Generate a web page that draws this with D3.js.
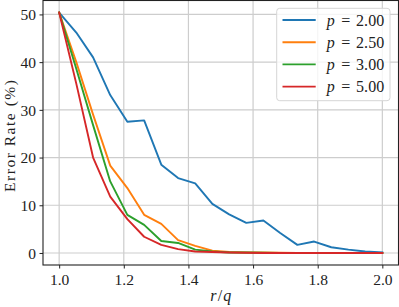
<!DOCTYPE html>
<html><head><meta charset="utf-8">
<script src="https://cdn.jsdelivr.net/npm/d3@7"></script>
<style>
html,body{margin:0;padding:0;background:#fff;}
svg{display:block;}
</style></head>
<body>
<svg id="chart" width="399" height="307"></svg>
<script>
const ratios = [1.000, 1.053, 1.105, 1.158, 1.211, 1.263, 1.316, 1.368, 1.421, 1.474,
                1.526, 1.579, 1.632, 1.684, 1.737, 1.789, 1.842, 1.895, 1.947, 2.000];
const seriesNames = ["2.00", "2.50", "3.00", "5.00"];
const errP200 = [50.4, 46.2, 41.0, 33.1, 27.5, 27.8, 18.5, 15.7, 14.6, 10.3, 8.1, 6.3, 6.8, 4.2, 1.7, 2.4, 1.2, 0.7, 0.3, 0.1];
const errP250 = [50.4, 40.0, 29.0, 18.3, 13.6, 8.0, 6.1, 2.7, 1.5, 0.5, 0.2, 0.1, 0.1, 0.05, 0, 0, 0, 0, 0, 0];
const errP300 = [50.4, 38.6, 26.8, 15.0, 8.0, 5.9, 2.5, 2.1, 0.7, 0.3, 0.1, 0.1, 0.05, 0, 0, 0, 0, 0, 0, 0];
const errP500 = [50.4, 35.5, 20.0, 11.8, 7.1, 3.4, 1.7, 0.8, 0.3, 0.2, 0.1, 0.05, 0, 0, 0, 0, 0, 0, 0, 0];
const xTicks = [1.0, 1.2, 1.4, 1.6, 1.8, 2.0];
const yTicks = [0, 10, 20, 30, 40, 50];
const colors = ["#1f77b4", "#ff7f0e", "#2ca02c", "#d62728"];

const series = [errP200, errP250, errP300, errP500];

const FONT = '"Liberation Serif", serif';
const svg = d3.select("#chart");
const L = 43, R = 398.5, T = 0.5, B = 265;
const FS = 15;

const xMin = d3.min(ratios), xMax = d3.max(ratios);
const xPad = (xMax - xMin) * 0.05;
const allY = series.flat();
const yMin = d3.min(allY), yMax = d3.max(allY);
const yPad = (yMax - yMin) * 0.05;

const x = d3.scaleLinear().domain([xMin - xPad, xMax + xPad]).range([L, R]);
const y = d3.scaleLinear().domain([yMin - yPad, yMax + yPad]).range([B, T]);

// grid
const grid = svg.append("g");
grid.selectAll("line.gx").data(xTicks).join("line")
  .attr("x1", d => x(d)).attr("x2", d => x(d)).attr("y1", T).attr("y2", B)
  .attr("stroke", "#cdcdcd").attr("stroke-width", 1.2);
grid.selectAll("line.gy").data(yTicks).join("line")
  .attr("y1", d => y(d)).attr("y2", d => y(d)).attr("x1", L).attr("x2", R)
  .attr("stroke", "#cdcdcd").attr("stroke-width", 1.2);

// lines
const line = d3.line().x((d, i) => x(ratios[i])).y(d => y(d));
series.forEach((s, k) => {
  svg.append("path").datum(s).attr("d", line)
    .attr("fill", "none").attr("stroke", colors[k]).attr("stroke-width", 1.9)
    .attr("stroke-linejoin", "round").attr("stroke-linecap", "square");
});

// axes
const xAxis = d3.axisBottom(x).tickValues(xTicks).tickFormat(d3.format(".1f")).tickSize(3.5).tickPadding(4);
const yAxis = d3.axisLeft(y).tickValues(yTicks).tickFormat(d3.format("d")).tickSize(3.5).tickPadding(4);
const gx = svg.append("g").attr("transform", `translate(0,${B})`).call(xAxis);
const gy = svg.append("g").attr("transform", `translate(${L},0)`).call(yAxis);
[gx, gy].forEach(g => {
  g.attr("font-family", null).attr("font-size", null);
  g.select(".domain").remove();
  g.selectAll(".tick line").attr("stroke", "#222").attr("stroke-width", 1);
  g.selectAll(".tick text").style("font-size", (FS + 0.5) + "px").attr("fill", "#222")
    .style("font-family", FONT);
});
gx.selectAll(".tick text").attr("dy", null).attr("y", 19.5);
gy.selectAll(".tick text").attr("dy", "0.34em").attr("x", -7);

// spines
svg.append("rect").attr("x", L).attr("y", T).attr("width", R - L).attr("height", B - T)
  .attr("fill", "none").attr("stroke", "#222").attr("stroke-width", 1.1);

// axis labels
svg.append("text").attr("transform", "translate(15,136) rotate(-90)")
  .attr("text-anchor", "middle").style("font-family", FONT).style("font-size", "15.5px")
  .attr("fill", "#222")
  .attr("textLength", 112).attr("lengthAdjust", "spacing")
  .text("Error Rate (%)");
const xl = svg.append("text").attr("x", 220.8).attr("y", 301).attr("text-anchor", "middle")
  .style("font-family", FONT).style("font-size", "16px").attr("fill", "#222")
  .attr("textLength", 21).attr("lengthAdjust", "spacing");
xl.append("tspan").attr("font-style", "italic").text("r");
xl.append("tspan").text("/");
xl.append("tspan").attr("font-style", "italic").text("q");

// legend
const lg = svg.append("g");
lg.append("rect").attr("x", 276.7).attr("y", 8.3).attr("width", 113.3).attr("height", 92.4)
  .attr("rx", 3).attr("fill", "#fff").attr("fill-opacity", 0.8)
  .attr("stroke", "#d5d5d5").attr("stroke-width", 1);
seriesNames.forEach((name, k) => {
  const cy = 20 + k * 22.2;
  lg.append("line").attr("x1", 282.5).attr("x2", 315.7).attr("y1", cy).attr("y2", cy)
    .attr("stroke", colors[k]).attr("stroke-width", 1.9);
  lg.append("text").attr("x", 326.7).attr("y", cy + 5.5)
    .style("font-family", FONT).style("font-size", (FS + 1) + "px").attr("fill", "#222")
    .attr("font-style", "italic").text("p");
  lg.append("text").attr("x", 345.8).attr("y", cy + 5.5)
    .style("font-family", FONT).style("font-size", (FS + 1) + "px").attr("fill", "#222")
    .attr("text-anchor", "middle").text("=");
  lg.append("text").attr("x", 356).attr("y", cy + 5.5)
    .style("font-family", FONT).style("font-size", (FS + 1) + "px").attr("fill", "#222")
    .attr("textLength", 28.3).attr("lengthAdjust", "spacing").text(name);
});
</script>
</body></html>
